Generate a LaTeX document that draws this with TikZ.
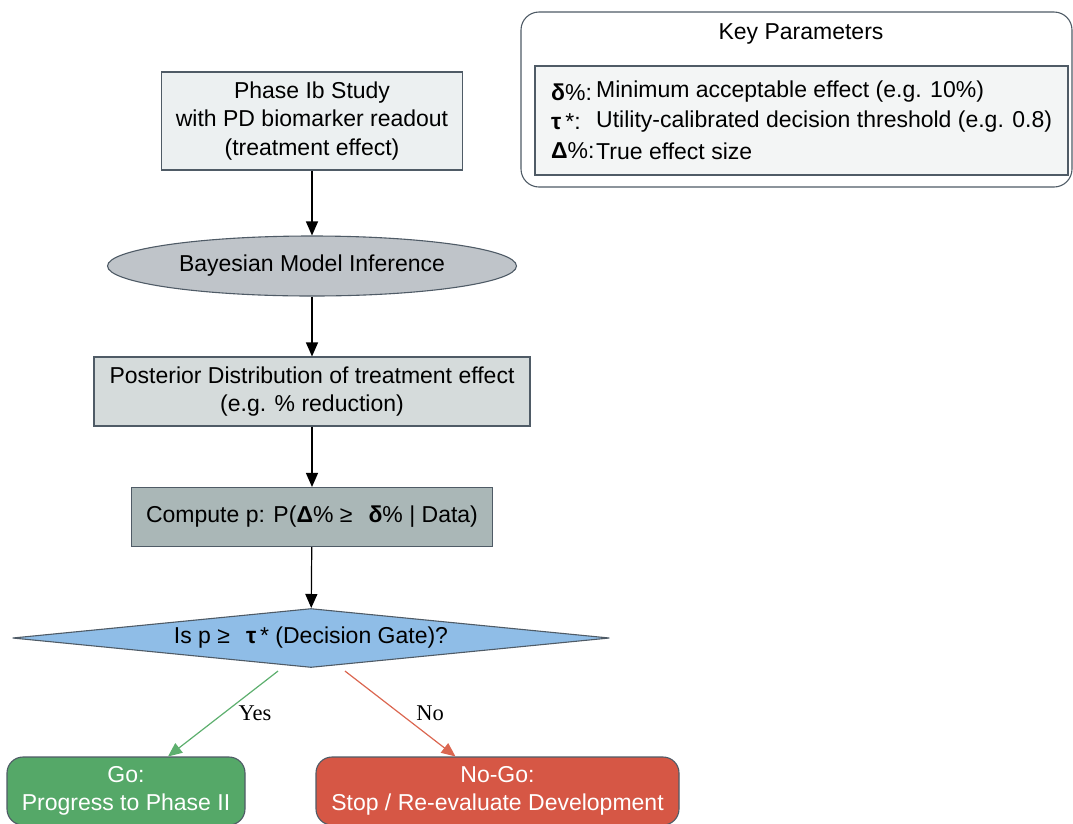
\documentclass[tikz,border=0pt]{standalone}
\usepackage{fontspec}
\setmainfont{Liberation Sans}
\newfontfamily\labelserif{Liberation Serif}
\usetikzlibrary{shapes.geometric,arrows.meta,calc}

\definecolor{edgegray}{HTML}{4F5B66}
\definecolor{studyfill}{HTML}{ECF0F1}
\definecolor{bayesfill}{HTML}{BFC4C9}
\definecolor{postfill}{HTML}{D5DBDB}
\definecolor{computefill}{HTML}{AAB7B7}
\definecolor{gatefill}{HTML}{8FBDE7}
\definecolor{gofill}{HTML}{55A868}
\definecolor{nogofill}{HTML}{D65745}
\definecolor{keyfill}{HTML}{F3F5F5}
\definecolor{yesline}{HTML}{5DAF6E}
\definecolor{noline}{HTML}{DB6650}

\begin{document}
\begin{tikzpicture}[x=1pt,y=-1pt,
  font=\fontsize{23}{28.5}\selectfont,
  flowbox/.style={draw=edgegray, line width=1.1pt, align=center, inner sep=0pt},
  outcome/.style={draw=edgegray, line width=1.1pt, rounded corners=16pt,
    align=center, inner sep=0pt, text=white},
  flowarrow/.style={line width=1.2pt, -{Triangle[length=14pt,width=12pt]}},
  branchlabel/.style={font=\labelserif\fontsize{22.5}{26}\selectfont, inner sep=1pt},
  keyline/.style={anchor=west, inner sep=0pt}
]
\clip (0,0) rectangle (1073,823);

% main flow
\node[flowbox, fill=studyfill, minimum width=301pt, minimum height=98pt] (study) at (312,121)
  {Phase Ib Study\\with PD biomarker readout\\(treatment effect)};
\node[ellipse, draw=edgegray, line width=1.1pt, fill=bayesfill, inner sep=0pt,
  minimum width=409pt, minimum height=60pt] (bayes) at (312,266) {Bayesian Model Inference};
\node[flowbox, fill=postfill, minimum width=436pt, minimum height=69pt] (post) at (312,391.5)
  {Posterior Distribution of treatment effect\\(e.g. \% reduction)};
\node[flowbox, fill=computefill, minimum width=361pt, minimum height=59pt] (compute) at (312,517)
  {Compute p: P(\textbf{Δ}\% ≥\hspace{16pt}\textbf{δ}\% | Data)};
\node[diamond, draw=edgegray, line width=1.1pt, fill=gatefill, inner sep=0pt, shape aspect=10,
  minimum width=597pt, minimum height=59pt] (gate) at (311,638)
  {Is p ≥\hspace{16pt}\textbf{τ}\,* (Decision Gate)?};

% outcomes
\node[outcome, fill=gofill, minimum width=238pt, minimum height=68pt] (go) at (126,791)
  {Go:\\Progress to Phase II};
\node[outcome, fill=nogofill, minimum width=363pt, minimum height=68pt] (nogo) at (497.5,791)
  {No-Go:\\Stop / Re-evaluate Development};

% connectors
\draw[flowarrow] (study) -- (bayes);
\draw[flowarrow] (bayes) -- (post);
\draw[flowarrow] (post) -- (compute);
\draw[flowarrow] (compute) -- (gate);
\coordinate (yesstart) at ([xshift=-33pt,yshift=-3pt]gate.south);
\coordinate (nostart) at ([xshift=34pt,yshift=-3pt]gate.south);
\draw[flowarrow, color=yesline] (yesstart) -- ([xshift=42pt]go.north);
\draw[flowarrow, color=noline] (nostart) -- ([xshift=-42pt]nogo.north);
\node[branchlabel] (yeslabel) at (255,713) {Yes};
\node[branchlabel] (nolabel) at (430,713) {No};

% parameter legend
\node[draw=edgegray, line width=1.1pt, rounded corners=18pt, fill=white,
  minimum width=551pt, minimum height=175pt, inner sep=0pt] (keybox) at (796.5,99.5) {};
\node (keytitle) at (801,34) {Key Parameters};
\node[draw=edgegray, line width=1.1pt, fill=keyfill, minimum width=533pt, minimum height=109pt,
  inner sep=0pt] (keyinner) at (801.5,120.5) {};
\node[keyline] (kdelta) at (551,92) {\textbf{δ}\%:};
\node[keyline] (kdeltatext) at (596,92) {Minimum acceptable effect (e.g. 10\%)};
\node[keyline] (ktau) at (551,122) {\textbf{τ}\,*:};
\node[keyline] (ktautext) at (596,122) {Utility-calibrated decision threshold (e.g. 0.8)};
\node[keyline] (kDelta) at (551,151) {\textbf{Δ}\%:};
\node[keyline] (kDeltatext) at (596,151) {True effect size};
\end{tikzpicture}
\end{document}
